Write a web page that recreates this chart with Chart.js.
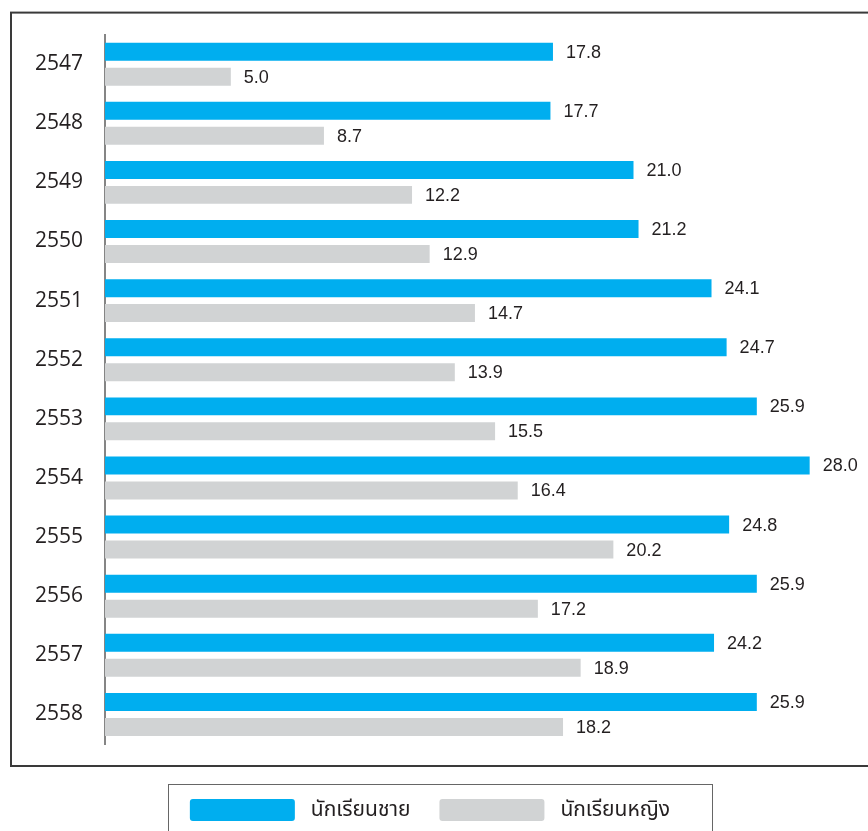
<!DOCTYPE html>
<html>
<head>
<meta charset="utf-8">
<script src="https://cdn.jsdelivr.net/npm/chart.js@4"></script>
<style>
  html, body { margin: 0; padding: 0; background: #fff; }
  #wrap { position: relative; width: 868px; height: 831px; }
</style>
</head>
<body>
<div id="wrap"><canvas id="c" width="868" height="831"></canvas></div>
<script>
const years = ['2547','2548','2549','2550','2551','2552','2553','2554','2555','2556','2557','2558'];
const maleValues = [17.8, 17.7, 21.0, 21.2, 24.1, 24.7, 25.9, 28.0, 24.8, 25.9, 24.2, 25.9];
const femaleValues = [5.0, 8.7, 12.2, 12.9, 14.7, 13.9, 15.5, 16.4, 20.2, 17.2, 18.9, 18.2];
const seriesNames = [' นักเรียนชาย', ' นักเรียนหญิง'];

const valueLabels = {
  id: 'valueLabels',
  afterDatasetsDraw(chart) {
    const ctx = chart.ctx;
    ctx.save();
    ctx.font = '18px "Liberation Sans", Arial, sans-serif';
    ctx.fillStyle = '#231f20';
    ctx.textBaseline = 'middle';
    ctx.textAlign = 'left';
    chart.data.datasets.forEach((ds, di) => {
      const meta = chart.getDatasetMeta(di);
      meta.data.forEach((bar, i) => {
        ctx.fillText(ds.data[i].toFixed(1), bar.x + 13, bar.y + 1);
      });
    });
    ctx.restore();
  }
};

const frames = {
  id: 'frames',
  afterDraw(chart) {
    const ctx = chart.ctx;
    const a = chart.chartArea;
    ctx.save();
    ctx.strokeStyle = '#3a3a3a';
    ctx.lineWidth = 2;
    ctx.strokeRect(a.left - 94, a.top - 22, 900, a.bottom - a.top + 44);
    ctx.strokeStyle = '#666';
    ctx.lineWidth = 1;
    const lg = chart.legend;
    ctx.strokeRect(168.5, lg.top + 14.5, 544, 100);
    ctx.restore();
  }
};

new Chart(document.getElementById('c'), {
  type: 'bar',
  data: {
    labels: years,
    datasets: [
      { label: seriesNames[0], data: maleValues, backgroundColor: '#00aeef',
        barPercentage: 0.72, categoryPercentage: 0.845 },
      { label: seriesNames[1], data: femaleValues, backgroundColor: '#d1d3d4',
        barPercentage: 0.72, categoryPercentage: 0.845 }
    ]
  },
  options: {
    indexAxis: 'y',
    responsive: false,
    animation: false,
    layout: { padding: { top: 34, left: 0, right: 8, bottom: 0 } },
    scales: {
      x: {
        min: 0, max: 30,
        ticks: { display: false },
        grid: { display: false },
        border: { display: false },
        afterFit(s) { s.height = 26; }
      },
      y: {
        grid: { display: false, drawTicks: false },
        border: { display: true, color: '#858585', width: 2 },
        ticks: {
          padding: 22,
          color: '#231f20',
          font: { family: '"Open Sans", sans-serif', size: 21 }
        },
        afterFit(s) { s.width = 105; }
      }
    },
    plugins: {
      legend: {
        position: 'bottom',
        labels: {
          boxWidth: 105,
          boxHeight: 22,
          padding: 29,
          useBorderRadius: true,
          borderRadius: 3,
          color: '#231f20',
          font: { family: '"Noto Sans", "Noto Sans Thai", sans-serif', size: 21 }
        }
      },
      tooltip: { enabled: false }
    }
  },
  plugins: [valueLabels, frames]
});
</script>
</body>
</html>
